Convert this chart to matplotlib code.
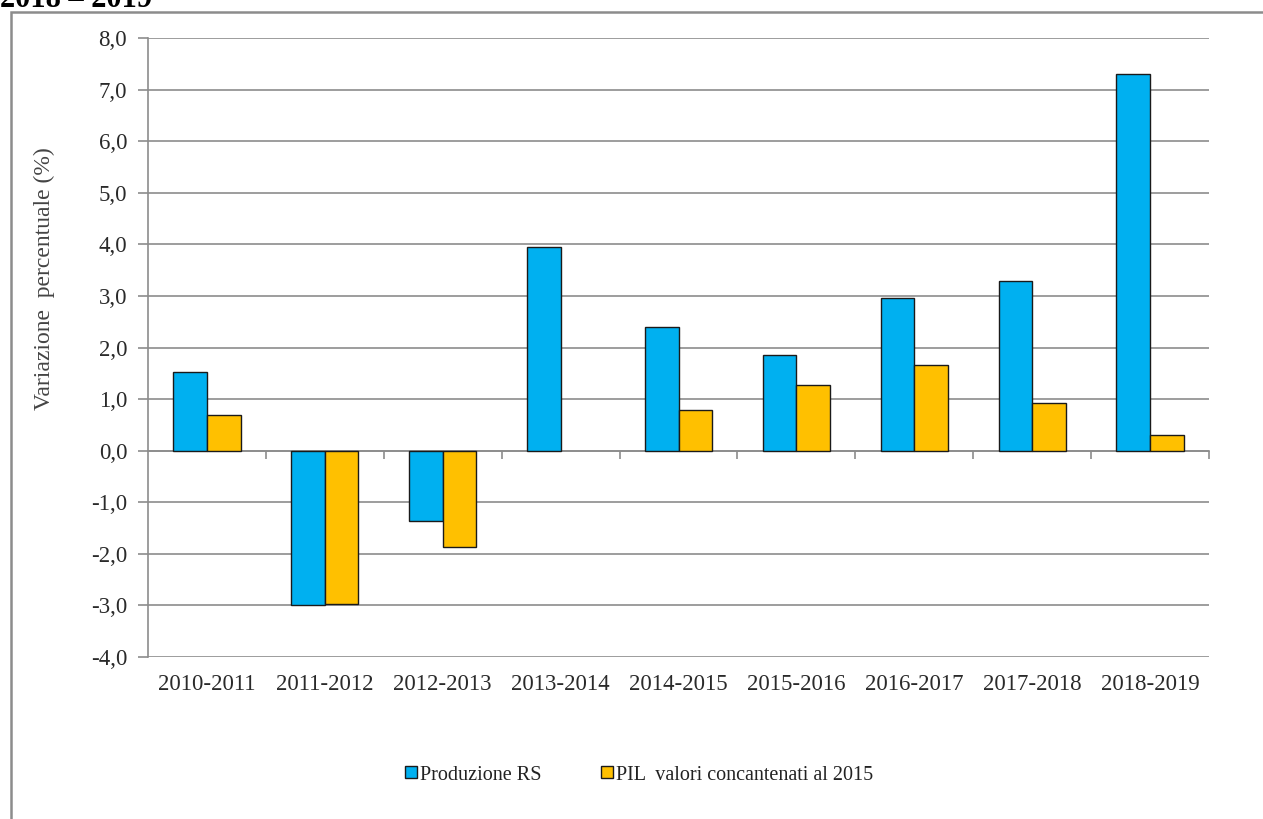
import matplotlib
matplotlib.use("Agg")
import matplotlib.pyplot as plt
import matplotlib.transforms as mtransforms
from matplotlib.patches import Rectangle, Patch
import numpy as np

categories = ["2010-2011", "2011-2012", "2012-2013", "2013-2014", "2014-2015",
              "2015-2016", "2016-2017", "2017-2018", "2018-2019"]
produzione_rs = [1.52, -3.0, -1.36, 3.95, 2.40, 1.86, 2.95, 3.28, 7.30]
pil = [0.70, -2.98, -1.86, 0.0, 0.78, 1.28, 1.67, 0.93, 0.30]
y_ticks = [-4, -3, -2, -1, 0, 1, 2, 3, 4, 5, 6, 7, 8]
series_names = ["Produzione RS", "PIL  valori concantenati al 2015"]

plt.rcParams['font.family'] = ['Liberation Serif', 'DejaVu Serif']

fig = plt.figure(figsize=(12.63, 8.19), dpi=100)
W, H = 1263, 819
ax = fig.add_axes([148 / W, 1 - 657 / H, (1209 - 148) / W, (657 - 38) / H])

x = np.arange(len(categories))
bw = 0.285
b1 = ax.bar(x - bw / 2, produzione_rs, bw, color="#00B0F0", edgecolor="#1a1a1a", linewidth=1.0, zorder=3)
b2 = ax.bar(x + bw / 2, pil, bw, color="#FFC000", edgecolor="#1a1a1a", linewidth=1.0, zorder=3)
for bars in (b1, b2):
    for r in bars:
        if r.get_height() == 0:
            r.set_linewidth(0)

ax.set_xlim(-0.5, len(categories) - 0.5)
ax.set_ylim(-4, 8)
ax.set_yticks(y_ticks)
ax.set_yticklabels([f"{v:.1f}".replace(".", ",") for v in y_ticks], fontsize=16.5, color="#2a2a2a")
ax.yaxis.grid(True, color="#8c8c8c", linewidth=1.2, zorder=0)
ax.tick_params(axis='y', length=7, color="#8c8c8c", width=1.2, pad=8)

for s in ["top", "right"]:
    ax.spines[s].set_visible(False)
ax.spines["left"].set_color("#8c8c8c")
ax.spines["left"].set_linewidth(1.2)
ax.spines["bottom"].set_position(("data", 0))
ax.spines["bottom"].set_color("#8c8c8c")
ax.spines["bottom"].set_linewidth(1.2)
ax.set_xticks(np.arange(0.5, len(categories) - 0.5 + 1, 1.0))
ax.set_xticklabels([])
ax.tick_params(axis='x', length=6, color="#8c8c8c", width=1.2, direction='out')

trans = mtransforms.blended_transform_factory(ax.transData, ax.transAxes)
for i, c in enumerate(categories):
    ax.text(i, -(685 - 657) / (657 - 38), c, transform=trans, ha='center', va='center',
            fontsize=16.5, color="#2a2a2a")

ax.set_ylabel("Variazione  percentuale (%)", fontsize=17, color="#444444")
ax.yaxis.set_label_coords(-(148 - 55) / (1209 - 148), 1 - (279 - 38) / (657 - 38))

handles = [Patch(facecolor="#00B0F0", edgecolor="#1a1a1a", linewidth=1.0),
           Patch(facecolor="#FFC000", edgecolor="#1a1a1a", linewidth=1.0)]
leg = fig.legend(handles, series_names, loc='center', bbox_to_anchor=(0.506, 1 - 775 / H),
                 ncol=2, frameon=False, fontsize=14.5, handlelength=0.55, handleheight=0.55,
                 handletextpad=0.15, columnspacing=3.0)
for t in leg.get_texts():
    t.set_color("#222222")

# outer frame
fig.patches.append(Rectangle((10.5 / W, -0.05), 1.1, 1 - 12 / H + 0.05, transform=fig.transFigure,
                             fill=False, edgecolor="#8c8c8c", linewidth=1.8))
# cut-off heading
fig.text(0.0, 1 - 7 / H, "2018 \u2013 2019", fontsize=22, fontweight='bold', ha='left', va='baseline')

fig.savefig("out.png", dpi=100)
